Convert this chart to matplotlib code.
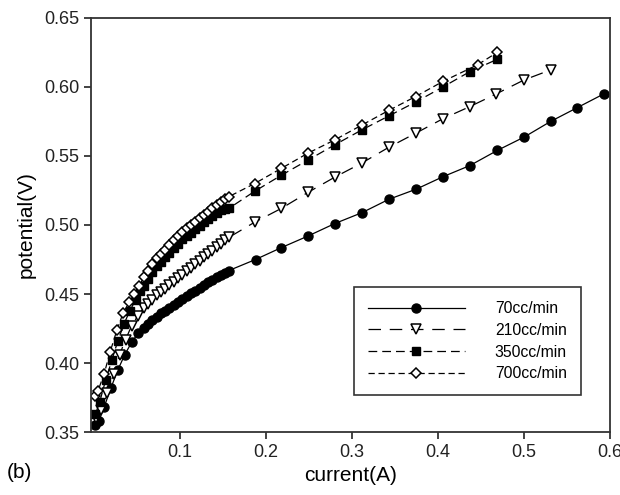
import matplotlib
matplotlib.use("Agg")
import matplotlib.pyplot as plt

plt.rcParams['font.family'] = ['Liberation Sans', 'DejaVu Sans']

# 70 cc/min
x70 = [0.002, 0.006, 0.012, 0.020, 0.028, 0.036, 0.044, 0.052,
       0.058, 0.063, 0.068, 0.073, 0.078, 0.083, 0.088, 0.093, 0.098, 0.103,
       0.108, 0.113, 0.118, 0.123, 0.128, 0.133, 0.138, 0.143, 0.148, 0.153, 0.157,
       0.188, 0.218, 0.249, 0.280, 0.312, 0.343, 0.375, 0.406, 0.437, 0.469,
       0.500, 0.531, 0.562, 0.593]
y70 = [0.355, 0.358, 0.368, 0.382, 0.395, 0.406, 0.415, 0.422,
       0.4255, 0.4285, 0.431, 0.4335, 0.436, 0.438, 0.440, 0.442, 0.4445, 0.4465,
       0.4485, 0.4505, 0.4525, 0.4545, 0.4565, 0.4585, 0.460, 0.462, 0.464, 0.4655, 0.467,
       0.475, 0.4836, 0.492, 0.501, 0.509, 0.5186, 0.526, 0.535, 0.543, 0.554,
       0.5636, 0.575, 0.585, 0.595]

# 210 cc/min
x210 = [0.003, 0.009, 0.016, 0.023, 0.030, 0.037, 0.044, 0.051,
        0.058, 0.063, 0.068, 0.073, 0.078, 0.083, 0.088, 0.093, 0.098, 0.103,
        0.108, 0.113, 0.118, 0.123, 0.128, 0.133, 0.138, 0.143, 0.148, 0.153, 0.157,
        0.187, 0.218, 0.249, 0.280, 0.312, 0.343, 0.374, 0.406, 0.437, 0.468,
        0.500, 0.531]
y210 = [0.360, 0.366, 0.378, 0.392, 0.406, 0.417, 0.427, 0.434,
        0.440, 0.443, 0.446, 0.449, 0.4515, 0.454, 0.4565, 0.459, 0.4615, 0.464,
        0.4665, 0.469, 0.4715, 0.474, 0.4765, 0.479, 0.4815, 0.484, 0.4865, 0.489, 0.491,
        0.502, 0.512, 0.5236, 0.5346, 0.545, 0.5563, 0.5664, 0.577, 0.5857, 0.595,
        0.605, 0.6123]

# 350 cc/min
x350 = [0.002, 0.007, 0.014, 0.021, 0.028, 0.035, 0.042, 0.049, 0.054,
        0.058, 0.063, 0.068, 0.073, 0.078, 0.083, 0.088, 0.093, 0.098, 0.103,
        0.108, 0.113, 0.118, 0.123, 0.128, 0.133, 0.138, 0.143, 0.148, 0.153, 0.157,
        0.187, 0.218, 0.249, 0.280, 0.312, 0.343, 0.374, 0.406, 0.437, 0.469]
y350 = [0.363, 0.372, 0.388, 0.402, 0.416, 0.428, 0.438, 0.446, 0.452,
        0.456, 0.461, 0.466, 0.470, 0.4735, 0.4765, 0.480, 0.4835, 0.4865, 0.4895,
        0.492, 0.4945, 0.497, 0.4995, 0.502, 0.504, 0.5065, 0.509, 0.5105, 0.5115, 0.512,
        0.5244, 0.536, 0.547, 0.558, 0.569, 0.579, 0.589, 0.600, 0.611, 0.620]

# 700 cc/min
x700 = [0.001, 0.005, 0.012, 0.019, 0.027, 0.034, 0.041, 0.047, 0.053,
        0.058, 0.063, 0.068, 0.073, 0.078, 0.083, 0.088, 0.093, 0.098, 0.103,
        0.108, 0.113, 0.118, 0.123, 0.128, 0.133, 0.138, 0.143, 0.148, 0.153, 0.157,
        0.187, 0.218, 0.249, 0.280, 0.312, 0.343, 0.374, 0.406, 0.446, 0.469]
y700 = [0.376, 0.380, 0.392, 0.408, 0.424, 0.436, 0.444, 0.450, 0.456,
        0.462, 0.467, 0.472, 0.476, 0.479, 0.482, 0.4855, 0.489, 0.492, 0.495,
        0.4975, 0.500, 0.5025, 0.505, 0.5075, 0.5095, 0.512, 0.5145, 0.5165, 0.519, 0.5205,
        0.530, 0.541, 0.552, 0.5616, 0.5725, 0.583, 0.593, 0.604, 0.616, 0.625]

fig = plt.figure(figsize=(6.2, 4.95), dpi=100)
ax = fig.add_axes([0.147, 0.127, 0.837, 0.837])

lw = 0.9
ax.plot(x70, y70, '-', color='black', lw=lw, marker='o', ms=6.5,
        mfc='black', mec='black', label='70cc/min')
ax.plot(x210, y210, color='black', lw=lw, dashes=[10, 7], marker='v', ms=6.5,
        mfc='white', mec='black', mew=1.1, label='210cc/min')
ax.plot(x350, y350, color='black', lw=lw, dashes=[7, 4], marker='s', ms=5.5,
        mfc='black', mec='black', label='350cc/min')
ax.plot(x700, y700, color='black', lw=lw, dashes=[5, 3], marker='D', ms=5.5,
        mfc='white', mec='black', mew=1.1, label='700cc/min')

ax.set_xlim(-0.003, 0.6)
ax.set_ylim(0.35, 0.65)
ax.set_xticks([0.1, 0.2, 0.3, 0.4, 0.5, 0.6])
ax.set_xticklabels(['0.1', '0.2', '0.3', '0.4', '0.5', '0.6'])
ax.set_yticks([0.35, 0.40, 0.45, 0.50, 0.55, 0.60, 0.65])
ax.set_yticklabels(['0.35', '0.40', '0.45', '0.50', '0.55', '0.60', '0.65'])
ax.tick_params(direction='out', labelsize=13, length=5, width=1.2, colors='#222222')
for s in ax.spines.values():
    s.set_linewidth(1.3)
    s.set_color('#333333')

ax.set_xlabel('current(A)', fontsize=15, labelpad=4)
ax.set_ylabel('potential(V)', fontsize=15, labelpad=6)

leg = ax.legend(loc='lower right', bbox_to_anchor=(0.944, 0.089), fontsize=11.3,
                handlelength=6.2, handletextpad=1.9, labelspacing=0.42,
                frameon=True, fancybox=False, edgecolor='black',
                borderpad=0.9, borderaxespad=0)
leg.get_frame().set_linewidth(1.2)

fig.text(0.011, 0.035, '(b)', fontsize=15)

fig.savefig('out.png', dpi=100)
